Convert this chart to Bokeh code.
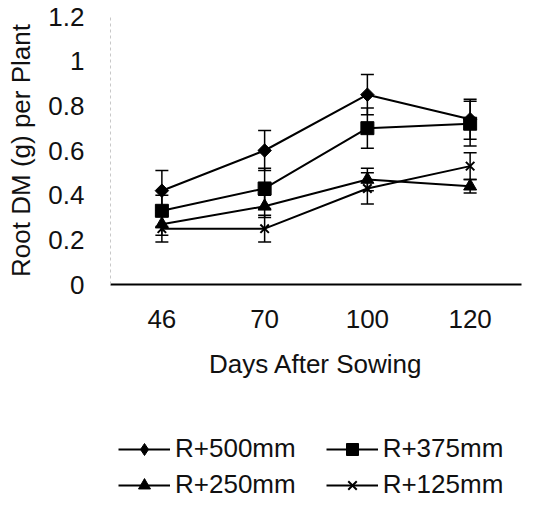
from math import pi
from bokeh.plotting import figure
from bokeh.layouts import column
from bokeh.models import (ColumnDataSource, Whisker, TeeHead, Legend, LegendItem,
                          FixedTicker, Range1d, FactorRange)
from bokeh.embed import file_html
from bokeh.resources import INLINE

# ---- data ----
days = ["46", "70", "100", "120"]
r500 = [0.42, 0.60, 0.85, 0.74]
r375 = [0.33, 0.43, 0.70, 0.72]
r250 = [0.27, 0.35, 0.47, 0.44]
r125 = [0.25, 0.25, 0.43, 0.53]
e500 = [0.09, 0.09, 0.09, 0.09]
e375 = [0.07, 0.09, 0.09, 0.10]
e250 = [0.05, 0.05, 0.05, 0.03]
e125 = [0.06, 0.06, 0.07, 0.06]
series_names = ["R+500mm", "R+375mm", "R+250mm", "R+125mm"]
y_ticks = [0, 0.2, 0.4, 0.6, 0.8, 1.0, 1.2]
y_tick_labels = ["0", "0.2", "0.4", "0.6", "0.8", "1", "1.2"]

FONT = "Liberation Sans"

xr = FactorRange(*days, range_padding=0)
yr = Range1d(0, 1.2)

p = figure(frame_width=411, frame_height=268, x_range=xr, y_range=yr,
           output_backend="svg", toolbar_location=None,
           min_border_left=110, min_border_right=8, min_border_top=16,
           min_border_bottom=0)
p.outline_line_color = None
p.xgrid.visible = False
p.ygrid.visible = False

# legend-only figure placed under the chart
q = figure(width=523, height=127, x_range=xr, y_range=yr,
           output_backend="svg", toolbar_location=None,
           x_axis_location=None, y_axis_location=None, min_border=0)
q.outline_line_color = None
q.xgrid.visible = False
q.ygrid.visible = False

series = [
    (r500, e500, dict(marker="square", size=9.5, angle=pi / 4), dict(marker="diamond", size=15)),
    (r375, e375, dict(marker="square", size=13), dict(marker="square", size=12)),
    (r250, e250, dict(marker="triangle", size=13), dict(marker="triangle", size=12)),
    (r125, e125, dict(marker="x", size=12, line_width=2), dict(marker="x", size=10, line_width=2)),
]

items = []
for name, (vals, errs, mk, lmk) in zip(series_names, series):
    src = ColumnDataSource(dict(x=days, y=vals,
                                upper=[v + e for v, e in zip(vals, errs)],
                                lower=[v - e for v, e in zip(vals, errs)]))
    w = Whisker(base="x", upper="upper", lower="lower", source=src,
                line_color="black", line_width=1.5,
                upper_head=TeeHead(size=13, line_color="black", line_width=1.5),
                lower_head=TeeHead(size=13, line_color="black", line_width=1.5))
    p.add_layout(w)
    p.line("x", "y", source=src, line_color="black", line_width=2)
    p.scatter("x", "y", source=src, fill_color="black", line_color="black", **mk)
    lr = q.line("x", "y", source=src, line_color="black", line_width=2, visible=False)
    mr = q.scatter("x", "y", source=src, fill_color="black", line_color="black",
                   visible=False, **lmk)
    items.append(LegendItem(label=name, renderers=[lr, mr]))

# axes
p.xaxis.axis_label = "Days After Sowing"
p.yaxis.axis_label = "Root DM (g) per Plant"
for ax in (p.xaxis, p.yaxis):
    ax.major_tick_line_color = None
    ax.minor_tick_line_color = None
    ax.major_label_text_font = FONT
    ax.major_label_text_font_size = "26px"
    ax.major_label_text_color = "#111111"
    ax.axis_label_text_font = FONT
    ax.axis_label_text_font_size = "26px"
    ax.axis_label_text_font_style = "normal"
    ax.axis_label_text_color = "#111111"

p.xaxis.axis_line_color = "black"
p.xaxis.axis_line_width = 2
p.xaxis.major_label_standoff = 19
p.xaxis.axis_label_standoff = 18

p.yaxis.axis_line_color = "#c8c8c8"
p.yaxis.axis_line_dash = "3 3"
p.yaxis.axis_line_width = 1
p.yaxis.ticker = FixedTicker(ticks=y_ticks)
p.yaxis.major_label_overrides = {t: l for t, l in zip(y_ticks, y_tick_labels)}
p.yaxis.major_label_standoff = 20
p.yaxis.axis_label_standoff = 9

for row, ypos in ((items[:2], 44), (items[2:], 8)):
    lg = Legend(items=row, orientation="horizontal", location=(8, ypos),
                border_line_color=None, background_fill_alpha=0,
                inactive_fill_alpha=0,
                label_text_font=FONT, label_text_font_size="26px",
                label_text_color="#111111",
                glyph_width=52, glyph_height=30, label_height=30,
                label_standoff=5, label_width=0, spacing=30,
                padding=0, margin=0)
    q.add_layout(lg, "center")

layout = column(p, q, spacing=0)
open("out.html", "w").write(file_html(layout, INLINE))
